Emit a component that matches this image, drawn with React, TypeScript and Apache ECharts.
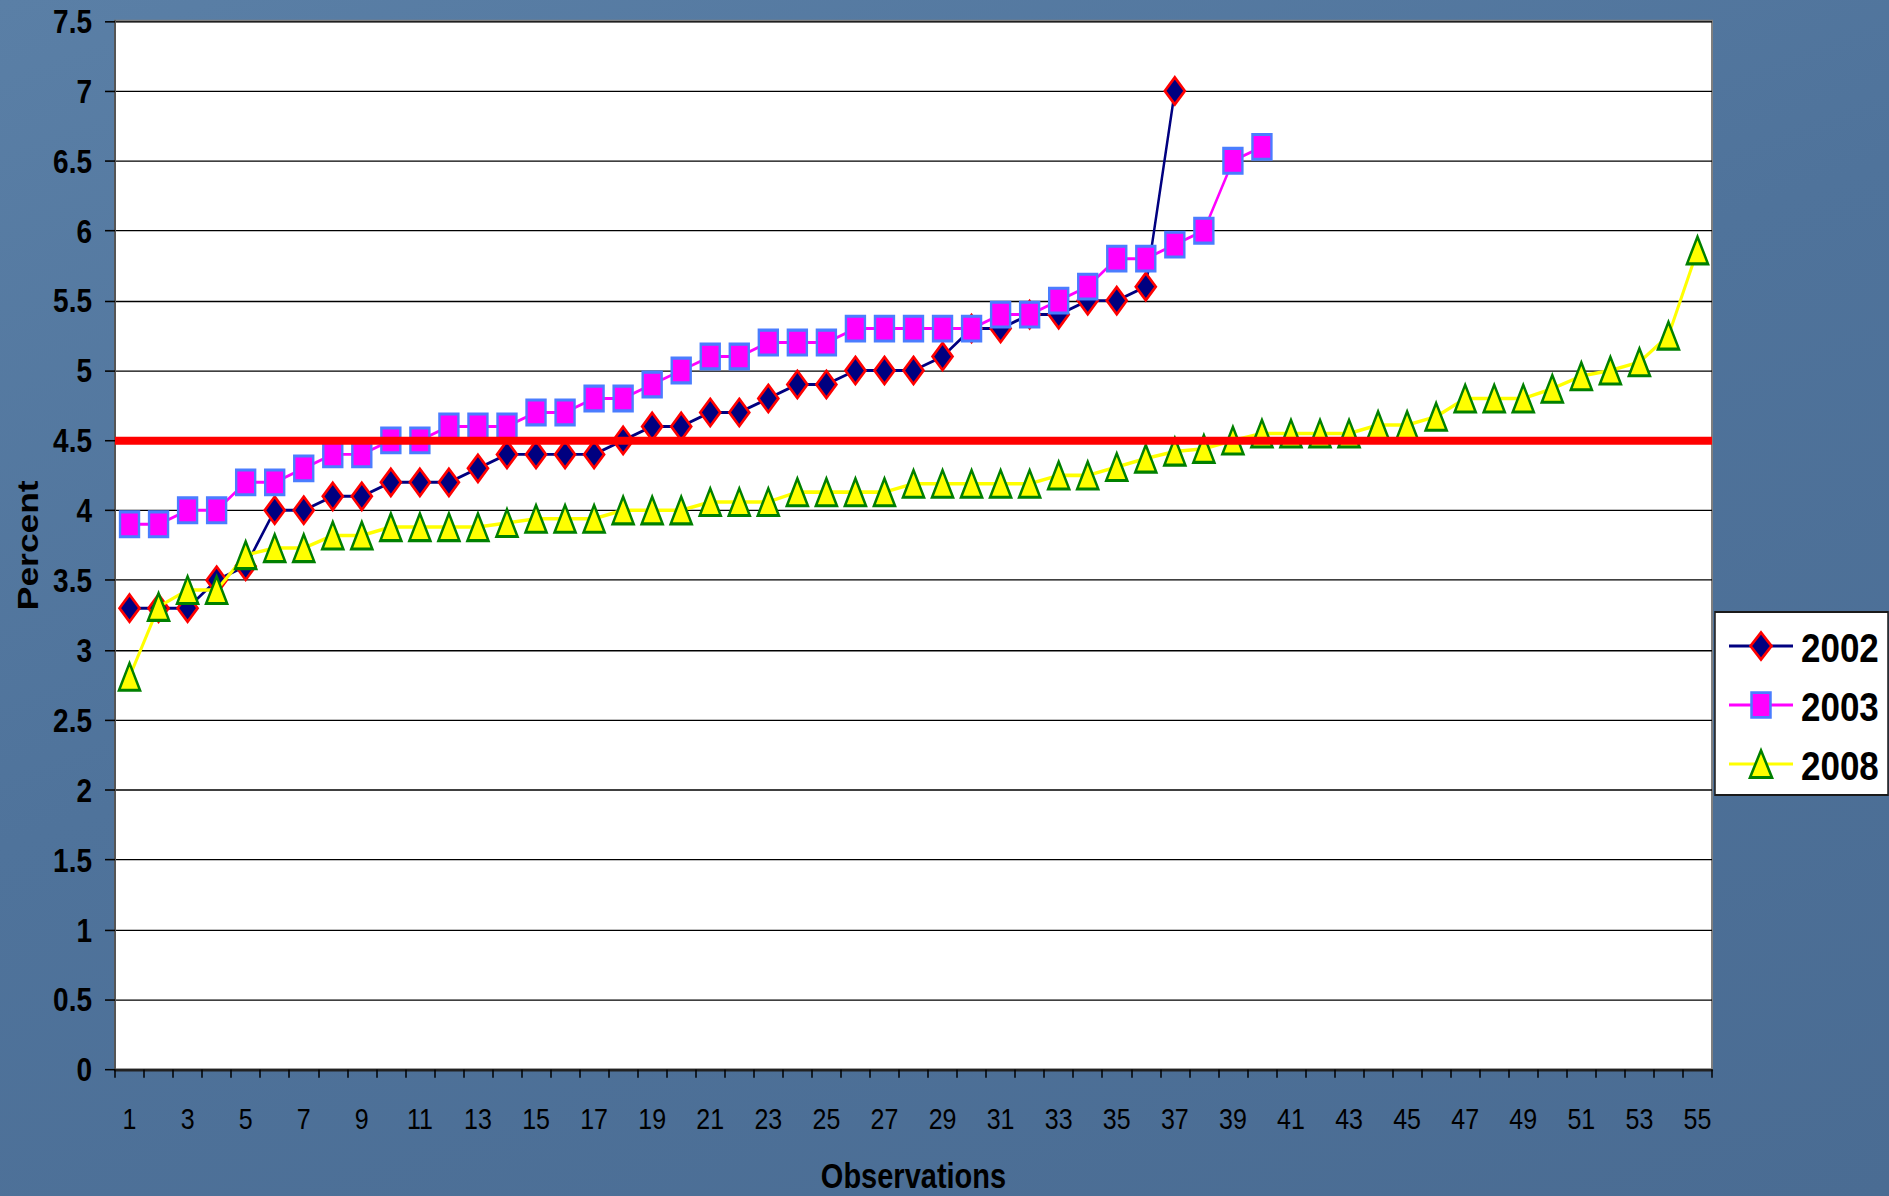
import React, { useEffect, useRef } from "react";
import * as echarts from "echarts";

const CATEGORIES = [
  "1","2","3","4","5","6","7","8","9","10",
  "11","12","13","14","15","16","17","18","19","20",
  "21","22","23","24","25","26","27","28","29","30",
  "31","32","33","34","35","36","37","38","39","40",
  "41","42","43","44","45","46","47","48","49","50",
  "51","52","53","54","55",
];

const SERIES_NAMES = ["2002", "2003", "2008"];

const VALUES_2002 = [
  3.3, 3.3, 3.3, 3.5, 3.6, 4.0, 4.0, 4.1, 4.1, 4.2,
  4.2, 4.2, 4.3, 4.4, 4.4, 4.4, 4.4, 4.5, 4.6, 4.6,
  4.7, 4.7, 4.8, 4.9, 4.9, 5.0, 5.0, 5.0, 5.1, 5.3,
  5.3, 5.4, 5.4, 5.5, 5.5, 5.6, 7.0,
];

const VALUES_2003 = [
  3.9, 3.9, 4.0, 4.0, 4.2, 4.2, 4.3, 4.4, 4.4, 4.5,
  4.5, 4.6, 4.6, 4.6, 4.7, 4.7, 4.8, 4.8, 4.9, 5.0,
  5.1, 5.1, 5.2, 5.2, 5.2, 5.3, 5.3, 5.3, 5.3, 5.3,
  5.4, 5.4, 5.5, 5.6, 5.8, 5.8, 5.9, 6.0, 6.5, 6.6,
];

const VALUES_2008 = [
  2.81, 3.31, 3.43, 3.43, 3.68, 3.73, 3.73, 3.82, 3.82, 3.88,
  3.88, 3.88, 3.88, 3.91, 3.94, 3.94, 3.94, 4.0, 4.0, 4.0,
  4.06, 4.06, 4.06, 4.13, 4.13, 4.13, 4.13, 4.19, 4.19, 4.19,
  4.19, 4.19, 4.25, 4.25, 4.31, 4.37, 4.42, 4.44, 4.5, 4.55,
  4.55, 4.55, 4.55, 4.61, 4.61, 4.67, 4.8, 4.8, 4.8, 4.87,
  4.96, 5.0, 5.06, 5.25, 5.86,
];

const THRESHOLD = 4.5;
const Y_MIN = 0;
const Y_MAX = 7.5;
const Y_STEP = 0.5;

const X_TITLE = "Observations";
const Y_TITLE = "Percent";

// The reference slide is stretched vertically; the chart is drawn in an
// unstretched frame and scaled on the y axis by this factor.
const STRETCH = 1.18;
const PAGE_W = 1889;
const PAGE_H = 1196;
const CHART_H = PAGE_H / STRETCH;

const FONT = '"Liberation Sans", Arial, Helvetica, sans-serif';

const STYLES = [
  { symbol: "diamond", size: [20, 23], fill: "#000080", border: "#ff0000", line: "#000080", lineWidth: 2.5 },
  { symbol: "rect", size: [19, 21], fill: "#ff00ff", border: "#4a7dff", line: "#ff00ff", lineWidth: 2.5 },
  { symbol: "triangle", size: [21, 23], fill: "#ffff00", border: "#008000", line: "#ffff00", lineWidth: 3 },
];

function legendGraphic() {
  const boxX = 1715;
  const boxY = 612 / STRETCH;
  const rows = [646 / STRETCH, 705 / STRETCH, 764 / STRETCH];
  const symX = 1761;
  const els: any[] = [
    {
      type: "rect",
      shape: { x: boxX, y: boxY, width: 173, height: 183 / STRETCH },
      style: { fill: "#ffffff", stroke: "#1a1a1a", lineWidth: 1.5 },
    },
  ];
  rows.forEach((cy, i) => {
    const st = STYLES[i];
    els.push({
      type: "line",
      shape: { x1: 1729, y1: cy, x2: 1793, y2: cy },
      style: { stroke: st.line, lineWidth: 2.6 },
    });
    if (i === 0) {
      els.push({
        type: "polygon",
        shape: { points: [[symX, cy - 11.5], [symX + 10.5, cy], [symX, cy + 11.5], [symX - 10.5, cy]] },
        style: { fill: st.fill, stroke: st.border, lineWidth: 2.5 },
      });
    } else if (i === 1) {
      els.push({
        type: "rect",
        shape: { x: symX - 9.5, y: cy - 10.5, width: 19, height: 21 },
        style: { fill: st.fill, stroke: st.border, lineWidth: 2.5 },
      });
    } else {
      els.push({
        type: "polygon",
        shape: { points: [[symX, cy - 11.5], [symX + 11, cy + 11.5], [symX - 11, cy + 11.5]] },
        style: { fill: st.fill, stroke: st.border, lineWidth: 2.5 },
      });
    }
    els.push({
      type: "text",
      x: 1801,
      y: cy + 1,
      style: {
        text: SERIES_NAMES[i],
        fontSize: 35,
        fontWeight: "bold",
        fontFamily: FONT,
        fill: "#000",
        align: "left",
        verticalAlign: "middle",
      },
    });
  });
  return els;
}

export default function App() {
  const ref = useRef<HTMLDivElement>(null);

  useEffect(() => {
    if (!ref.current) return;
    const chart = echarts.init(ref.current, undefined, { renderer: "svg" });
    const seriesData = [VALUES_2002, VALUES_2003, VALUES_2008];
    const series: any[] = seriesData.map((vals, i) => {
      const st = STYLES[i];
      const s: any = {
        name: SERIES_NAMES[i],
        type: "line",
        data: vals,
        symbol: st.symbol,
        symbolSize: st.size,
        showAllSymbol: true,
        lineStyle: { color: st.line, width: st.lineWidth },
        itemStyle: { color: st.fill, borderColor: st.border, borderWidth: 2.5 },
        emphasis: { disabled: true },
        z: 2 + i,
      };
      if (i === 2) {
        s.markLine = {
          silent: true,
          symbol: "none",
          label: { show: false },
          z: 10,
          lineStyle: { color: "#ff0000", width: 6.8, type: "solid" },
          data: [{ yAxis: THRESHOLD }],
        };
      }
      return s;
    });

    chart.setOption({
      animation: false,
      grid: {
        left: 115,
        top: 21 / STRETCH,
        right: 177,
        bottom: CHART_H - 1069 / STRETCH,
        outerBoundsMode: "none",
        containLabel: false,
        show: true,
        backgroundColor: "#ffffff",
        borderColor: "#7f7f7f",
        borderWidth: 2,
      },
      xAxis: {
        type: "category",
        data: CATEGORIES,
        boundaryGap: true,
        name: X_TITLE,
        nameLocation: "middle",
        nameGap: 76,
        nameTextStyle: { fontSize: 29, fontWeight: "bold", fontFamily: FONT, color: "#000" },
        axisLine: { show: true, lineStyle: { color: "#222", width: 2 } },
        axisTick: { show: true, interval: 0, alignWithLabel: false, length: 7, lineStyle: { color: "#000", width: 1.5 } },
        axisLabel: { interval: 1, margin: 29, fontSize: 25, fontFamily: FONT, color: "#000" },
        splitLine: { show: false },
      },
      yAxis: {
        type: "value",
        min: Y_MIN,
        max: Y_MAX,
        interval: Y_STEP,
        name: Y_TITLE,
        nameLocation: "middle",
        nameGap: 70,
        nameTextStyle: { fontSize: 30, fontWeight: "bold", fontFamily: FONT, color: "#000" },
        axisLine: { show: true, lineStyle: { color: "#555", width: 2 } },
        axisTick: { show: true, length: 10, lineStyle: { color: "#000", width: 1.3 } },
        axisLabel: { margin: 23, fontSize: 28, fontWeight: "bold", fontFamily: FONT, color: "#000" },
        splitLine: { show: true, lineStyle: { color: "#000", width: 1.1 } },
      },
      series,
      graphic: legendGraphic(),
    });
    return () => chart.dispose();
  }, []);

  return (
    <div
      style={{
        position: "fixed",
        left: 0,
        top: 0,
        width: PAGE_W,
        height: PAGE_H,
        overflow: "hidden",
        background: "linear-gradient(160deg, #5a7fa6 0%, #4f739b 45%, #4a6c93 100%)",
      }}
    >
      <div
        ref={ref}
        style={{
          position: "absolute",
          left: 0,
          top: 0,
          width: PAGE_W,
          height: CHART_H,
          transform: `scaleY(${STRETCH})`,
          transformOrigin: "0 0",
        }}
      />
    </div>
  );
}
